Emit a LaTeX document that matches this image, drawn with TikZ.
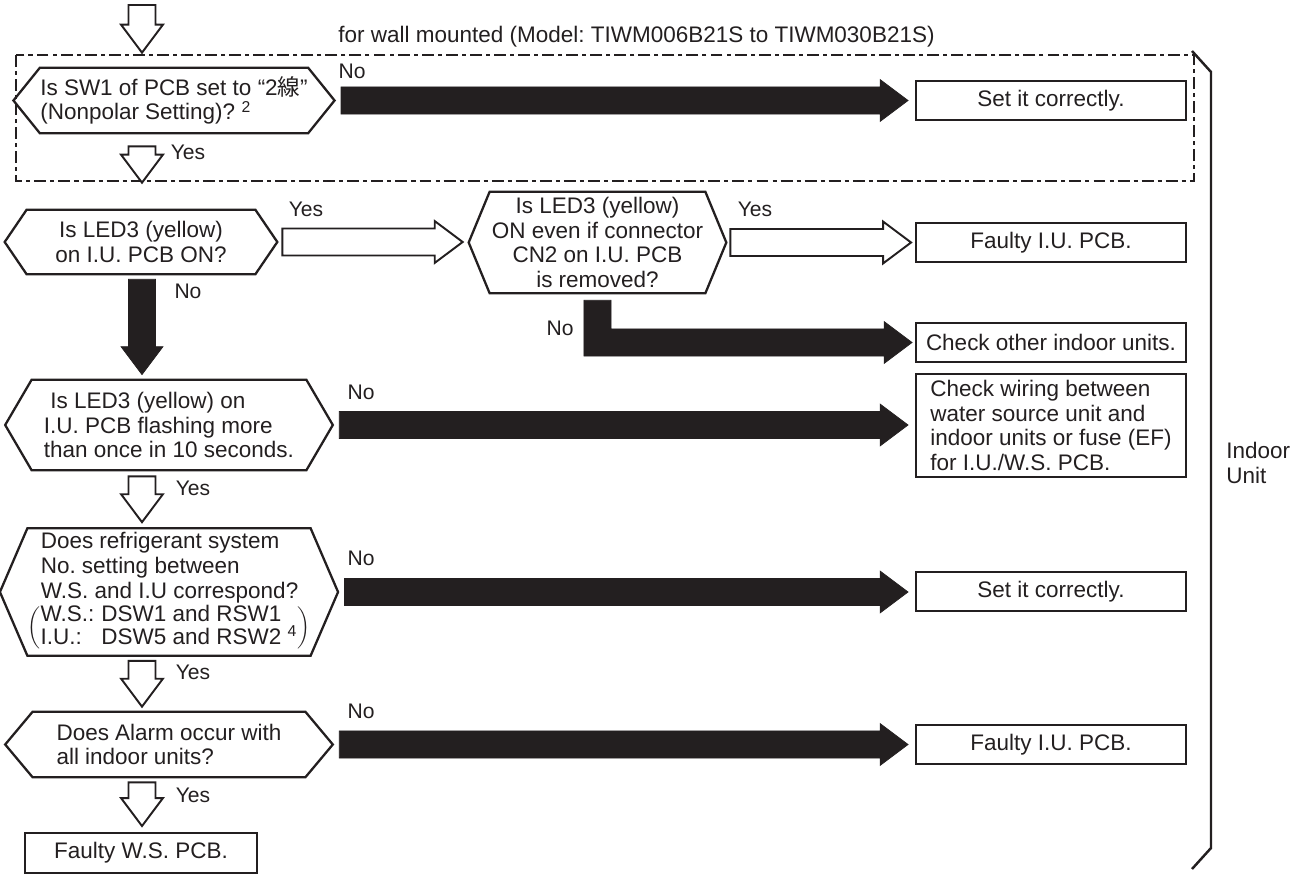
\documentclass[tikz,border=0pt]{standalone}
\usepackage{fontspec}
\setmainfont{Liberation Sans}
\newfontfamily\cjkfont{Noto Sans CJK JP}
\usetikzlibrary{calc}
\frenchspacing

% fat block arrows: shaft 0.54cm wide, head 0.84cm wide and 0.56cm long
\newcommand{\fatdown}[3][hollowarrow]{%
  \draw[#1] let \p1=#2, \p2=#3 in
    (\x1-7.7pt,\y1) -- (\x1+7.7pt,\y1) -- (\x1+7.7pt,\y2+15.9pt)
    -- (\x1+11.9pt,\y2+15.9pt) -- (\x1,\y2) -- (\x1-11.9pt,\y2+15.9pt)
    -- (\x1-7.7pt,\y2+15.9pt) -- cycle;}
\newcommand{\fatright}[3][solidarrow]{%
  \draw[#1] let \p1=#2, \p2=#3 in
    (\x1,\y1+7.7pt) -- (\x2-15.9pt,\y1+7.7pt) -- (\x2-15.9pt,\y1+11.9pt)
    -- (\x2,\y1) -- (\x2-15.9pt,\y1-11.9pt) -- (\x2-15.9pt,\y1-7.7pt)
    -- (\x1,\y1-7.7pt) -- cycle;}
% six-sided outline round a question node
\newcommand{\hexframe}[2]{%
  \draw[hexline] (#1.north west) -- (#1.north east) -- ([xshift=#2]#1.east)
    -- (#1.south east) -- (#1.south west) -- ([xshift=-#2]#1.west) -- cycle;}

\begin{document}
\begin{tikzpicture}[
    x=0.02cm, y=-0.02cm,
    every node/.style={font=\fontsize{12.8}{14}\selectfont, text=ink},
    hexa/.style={inner sep=0pt, align=center},
    result/.style={draw=ink, line width=1.1pt, minimum width=5.4cm, minimum height=0.78cm, inner sep=0pt},
    hexline/.style={draw=ink, line width=1.3pt, line join=miter},
    hollowarrow/.style={draw=ink, fill=white, line width=1.1pt, line join=miter},
    solidarrow/.style={draw=ink, fill=ink, line width=0.4pt, line join=miter},
    lbl/.style={font=\fontsize{12}{14}\selectfont},
    dashdot/.style={draw=ink, line width=0.8pt, dash pattern=on 6.8pt off 2.3pt on 2.3pt off 2.3pt},
    bracket/.style={draw=ink, line width=1.4pt}
]

\definecolor{ink}{HTML}{231F20}

\useasboundingbox (0,0) rectangle (1304,874);

% ==================== WALL MOUNTED FRAME ====================
\draw[dashdot] (16,55) rectangle (1194,181);
\node[anchor=base west, inner sep=0pt] (wall) at (338,43) {for wall mounted (Model: TIWM006B21S to TIWM030B21S)};

% ==================== QUESTIONS ====================
\node[hexa, minimum width=5.24cm, minimum height=1.3cm, align=left] (sw) at (174,100.5)
    {Is SW1 of PCB set to “2{\cjkfont 線}”\\(Nonpolar Setting)? \textsuperscript{2}};
\node[hexa, minimum width=4.56cm, minimum height=1.28cm] (led) at (141,242)
    {Is LED3 (yellow)\\on I.U. PCB ON?};
\node[hexa, minimum width=4.3cm, minimum height=2.02cm] (cn2) at (597.5,242.5)
    {Is LED3 (yellow)\\ON even if connector\\CN2 on I.U. PCB\\is removed?};
\node[hexa, minimum width=5.48cm, minimum height=1.8cm, align=left] (flash) at (169,425)
    {\hspace*{0.13cm}Is LED3 (yellow) on\\I.U. PCB flashing more\\than once in 10 seconds.};
\node[hexa, minimum width=5.44cm, minimum height=2.54cm, align=left] (rsw) at (169,592)
    {\hspace*{0.26cm}Does refrigerant system\\\hspace*{0.26cm}No. setting between\\\hspace*{0.26cm}W.S. and I.U correspond?\\
     $\biggl(\begin{tabular}{@{}l@{\hspace{0.14cm}}l@{}}W.S.: & DSW1 and RSW1\\[-2pt] I.U.: & DSW5 and RSW2 \textsuperscript{4}\end{tabular}\biggr)$};
\node[hexa, minimum width=5.44cm, minimum height=1.3cm, align=left] (alarm) at (169,744.5)
    {Does Alarm occur with\\all indoor units?};

\hexframe{sw}{0.53cm}
\hexframe{led}{0.44cm}
\hexframe{cn2}{0.42cm}
\hexframe{flash}{0.53cm}
\hexframe{rsw}{0.55cm}
\hexframe{alarm}{0.55cm}

% ==================== RESULTS ====================
\node[result] (set1) at (1051,100.5) {Set it correctly.};
\node[result] (iupcb1) at (1051,242.5) {Faulty I.U. PCB.};
\node[result] (other) at (1051,342.5) {Check other indoor units.};
\node[result, minimum height=2.06cm, align=left] (wiring) at (1051,425.5)
    {Check wiring between\\water source unit and\\indoor units or fuse (EF)\\for I.U./W.S. PCB.};
\node[result] (set2) at (1051,591.5) {Set it correctly.};
\node[result] (iupcb2) at (1051,744.5) {Faulty I.U. PCB.};
\node[result, minimum width=4.64cm, minimum height=0.8cm] (wspcb) at (141,853) {Faulty W.S. PCB.};

% ==================== ARROWS ====================
% Yes branches (down the left column)
\coordinate (entry) at (142,5);
\fatdown{(entry)}{($(entry |- sw.north)+(0,-15)$)}
\fatdown{($(sw.south -| entry)+(0,13)$)}{($(led.north -| entry)+(0,-27)$)}
\fatdown[solidarrow]{($(led.south -| entry)+(0,5)$)}{($(flash.north -| entry)+(0,-5)$)}
\fatdown{($(flash.south -| entry)+(0,6)$)}{($(rsw.north -| entry)+(0,-6)$)}
\fatdown{($(rsw.south -| entry)+(0,5)$)}{($(alarm.north -| entry)+(0,-5)$)}
\fatdown{($(alarm.south -| entry)+(0,5)$)}{($(wspcb.north -| entry)+(0,-6)$)}

% branches to the right
\fatright{($(sw.east)+(33,0)$)}{($(set1.west)+(-7,0)$)}
\fatright[hollowarrow]{($(led.east)+(27,0)$)}{($(cn2.west)+(-27,0)$)}
\fatright[hollowarrow]{($(cn2.east)+(25,0)$)}{($(iupcb1.west)+(-4,0)$)}
\fatright{($(flash.east)+(33,0)$)}{($(wiring.west)+(-7,0)$)}
\fatright{($(rsw.east)+(34,0)$)}{($(set2.west)+(-7,0)$)}
\fatright{($(alarm.east)+(34,0)$)}{($(iupcb2.west)+(-7,0)$)}

% bent arrow under the CN2 question
\draw[solidarrow] let \p1=($(cn2.south)+(0,7)$), \p2=($(other.west)+(-3,0)$) in
    (\x1-7.7pt,\y1) -- (\x1+7.7pt,\y1) -- (\x1+7.7pt,\y2+7.7pt)
    -- (\x2-15.9pt,\y2+7.7pt) -- (\x2-15.9pt,\y2+11.9pt) -- (\x2,\y2)
    -- (\x2-15.9pt,\y2-11.9pt) -- (\x2-15.9pt,\y2-7.7pt) -- (\x1-7.7pt,\y2-7.7pt) -- cycle;

% Labels
\node[lbl] (no1) at (352,71) {No};
\node[lbl] (yes1) at (188,152) {Yes};
\node[lbl] (yes2) at (306,209) {Yes};
\node[lbl] (no2) at (188,291) {No};
\node[lbl] (yes3) at (755,209) {Yes};
\node[lbl] (no3) at (560,328) {No};
\node[lbl] (no4) at (361,392) {No};
\node[lbl] (yes4) at (193,488) {Yes};
\node[lbl] (no5) at (361,558) {No};
\node[lbl] (yes5) at (193,672) {Yes};
\node[lbl] (no6) at (361,711) {No};
\node[lbl] (yes6) at (193,795) {Yes};

% ==================== INDOOR UNIT BRACKET ====================
\draw[bracket] (1192,51) -- (1211,72) -- (1211,848) -- (1192,869);
\node[anchor=west, align=left, inner sep=0pt] (indoor) at (1226,463) {Indoor\\Unit};

\end{tikzpicture}
\end{document}
